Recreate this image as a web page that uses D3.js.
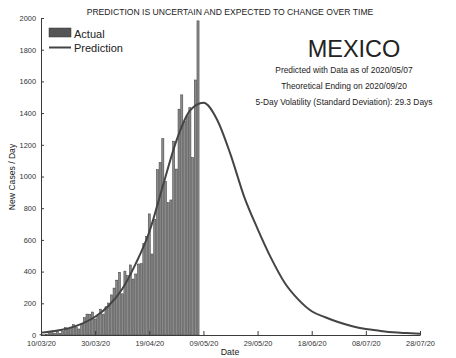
<!DOCTYPE html>
<html><head><meta charset="utf-8">
<script src="https://cdn.jsdelivr.net/npm/d3@7"></script>
<style>
html,body{margin:0;padding:0;background:#fff;}
text{font-family:"Liberation Sans",Arial,sans-serif;}
</style></head>
<body><svg id="c" width="456" height="358"></svg>
<script>
// ---- data ----
const actualStart = "2020-03-10";
const actualEnd = "2020-05-07";
const actualValues = [2,1,4,14,15,12,29,11,25,46,39,48,65,51,38,70,110,132,131,145,101,121,
  163,132,178,202,253,296,346,396,260,403,375,442,353,385,448,450,578,622,764,511,729,1043,1089,1239,970,835,852,1223,1047,1425,
  1515,1349,1383,1434,1120,1609,1982];
const predDates = ["2020-03-10","2020-03-15","2020-03-20","2020-03-25","2020-03-30","2020-04-04","2020-04-09","2020-04-14",
  "2020-04-19","2020-04-24","2020-04-29","2020-05-04","2020-05-09","2020-05-14","2020-05-19","2020-05-24","2020-05-29",
  "2020-06-03","2020-06-08","2020-06-13","2020-06-18","2020-06-23","2020-06-28","2020-07-03","2020-07-08","2020-07-13",
  "2020-07-18","2020-07-23","2020-07-28"];
const predValues = [15,25,42,70,115,185,290,450,650,940,1225,1415,1465,1360,1140,875,670,485,330,225,150,112,80,55,38,27,17,12,8];
const xTickDates = ["2020-03-10","2020-03-30","2020-04-19","2020-05-09","2020-05-29","2020-06-18","2020-07-08","2020-07-28"];
const yTicks = [0,200,400,600,800,1000,1200,1400,1600,1800,2000];
const titleText = "PREDICTION IS UNCERTAIN AND EXPECTED TO CHANGE OVER TIME";
const infoLines = ["Predicted with Data as of 2020/05/07","Theoretical Ending on 2020/09/20","5-Day Volatility (Standard Deviation): 29.3 Days"];

// ---- chart ----
const parse = d3.utcParse("%Y-%m-%d");
const fmt = d3.utcFormat("%d/%m/%y");
const svg = d3.select("#c");
const x = d3.scaleUtc().domain([parse("2020-03-10"), parse("2020-07-28")]).range([41, 420]);
const y = d3.scaleLinear().domain([0, 2000]).range([335, 18]);
const axisColor = "#3a3a3a";

const actualDates = d3.utcDays(parse(actualStart), d3.utcDay.offset(parse(actualEnd), 1));
const bars = actualDates.map((d, i) => ({d, v: actualValues[i]}));
const dayW = x(d3.utcDay.offset(parse(actualStart), 1)) - x(parse(actualStart));
const bw = dayW * 0.78;

svg.append("g").selectAll("rect").data(bars).join("rect")
  .attr("x", b => x(b.d) - bw / 2)
  .attr("y", b => y(b.v))
  .attr("width", bw)
  .attr("height", b => y(0) - y(b.v))
  .attr("fill", "#8a8a8a")
  .attr("stroke", "#3c3c3c")
  .attr("stroke-width", 0.5);

const pred = predDates.map((d, i) => ({d: parse(d), v: predValues[i]}));
svg.append("path").datum(pred)
  .attr("d", d3.line().x(p => x(p.d)).y(p => y(p.v)).curve(d3.curveMonotoneX))
  .attr("fill", "none").attr("stroke", "#444").attr("stroke-width", 2);

// axes
const xAxis = d3.axisBottom(x).tickValues(xTickDates.map(parse)).tickFormat(fmt).tickSizeInner(-4).tickSizeOuter(0).tickPadding(6);
const gx = svg.append("g").attr("transform", `translate(0,${y(0)})`).call(xAxis);
const yAxis = d3.axisLeft(y).tickValues(yTicks).tickFormat(d3.format("d")).tickSizeInner(-3).tickSizeOuter(0).tickPadding(5);
const gy = svg.append("g").attr("transform", `translate(${x.range()[0]},0)`).call(yAxis);
[gx, gy].forEach(g => {
  g.select(".domain").attr("stroke", axisColor).attr("stroke-width", 1);
  g.selectAll(".tick line").attr("stroke", axisColor);
  g.selectAll(".tick text").attr("fill", "#333").style("font-size", "7.4px").style("font-family", "'Liberation Sans',Arial,sans-serif");
});

// texts
svg.append("text").attr("x", 230).attr("y", 15).attr("text-anchor", "middle")
  .style("font-size", "8.6px").attr("fill", "#222").text(titleText);
svg.append("text").attr("x", 354).attr("y", 57).attr("text-anchor", "middle")
  .style("font-size", "23.5px").attr("fill", "#222").text("MEXICO");
infoLines.forEach((t, i) => {
  svg.append("text").attr("x", 344).attr("y", 73 + i * 16).attr("text-anchor", "middle")
    .style("font-size", "8.4px").attr("fill", "#222").text(t);
});
svg.append("text").attr("x", 230).attr("y", 355).attr("text-anchor", "middle")
  .style("font-size", "8.8px").attr("fill", "#222").text("Date");
svg.append("text").attr("transform", "translate(15,177) rotate(-90)").attr("text-anchor", "middle")
  .style("font-size", "8.6px").attr("fill", "#222").text("New Cases / Day");

// legend
const lg = svg.append("g");
lg.append("rect").attr("x", 49).attr("y", 28).attr("width", 22).attr("height", 9).attr("fill", "#555").attr("stroke", "#333").attr("stroke-width", 0.5);
lg.append("text").attr("x", 74).attr("y", 37.5).style("font-size", "11px").attr("fill", "#222").text("Actual");
lg.append("line").attr("x1", 49).attr("x2", 71).attr("y1", 47.5).attr("y2", 47.5).attr("stroke", "#444").attr("stroke-width", 2);
lg.append("text").attr("x", 74).attr("y", 52).style("font-size", "11px").attr("fill", "#222").text("Prediction");
</script></body></html>
